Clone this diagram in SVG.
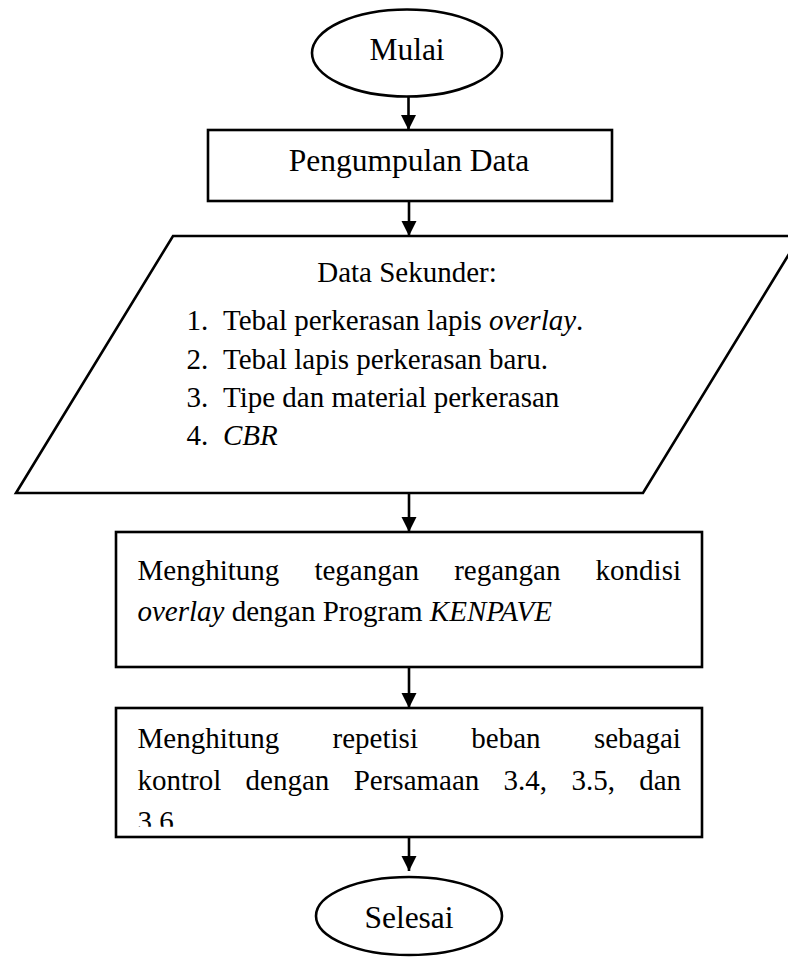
<svg xmlns="http://www.w3.org/2000/svg" width="788" height="957" viewBox="0 0 788 957">
<style>
.shape{fill:#fff;stroke:#000;stroke-width:2.6}
.edge{fill:none;stroke:#000;stroke-width:2.6}
.big{font-family:"Liberation Serif","Times New Roman",serif;font-size:31.5px;fill:#000}
.txt{font-family:"Liberation Serif","Times New Roman",serif;font-size:29px;fill:#000}
.it{font-style:italic}
</style>
<defs>
<marker id="arr" viewBox="0 0 10 10" refX="10" refY="5" markerUnits="userSpaceOnUse" markerWidth="15" markerHeight="16" orient="auto">
<path d="M0,0 L10,5 L0,10 z" fill="#000"/>
</marker>
<clipPath id="clipBox3"><rect x="116" y="708" width="586" height="118.7"/></clipPath>
</defs>
<rect width="788" height="957" fill="#fff"/>
<g id="connectors">
<line class="edge" x1="408.5" y1="97" x2="408.5" y2="130" marker-end="url(#arr)"/>
<line class="edge" x1="409" y1="201" x2="409" y2="236" marker-end="url(#arr)"/>
<line class="edge" x1="409" y1="493" x2="409" y2="532" marker-end="url(#arr)"/>
<line class="edge" x1="409" y1="667" x2="409" y2="708" marker-end="url(#arr)"/>
<line class="edge" x1="409" y1="837" x2="409" y2="871" marker-end="url(#arr)"/>
</g>
<g id="start">
<ellipse class="shape" cx="407" cy="53" rx="95" ry="43.5"/>
<text class="big" x="407" y="60" text-anchor="middle">Mulai</text>
</g>
<g id="collect">
<rect class="shape" x="208" y="130" width="404" height="71"/>
<text class="big" x="409" y="171" text-anchor="middle">Pengumpulan Data</text>
</g>
<g id="input">
<polygon class="shape" points="173,236 800,236 643,493 16,493"/>
<text class="txt" x="407" y="281.5" text-anchor="middle">Data Sekunder:</text>
<text class="txt" x="186.5" y="330">1.</text>
<text class="txt" x="223" y="330">Tebal perkerasan lapis <tspan class="it">overlay</tspan>.</text>
<text class="txt" x="186.5" y="368.5">2.</text>
<text class="txt" x="223" y="368.5">Tebal lapis perkerasan baru.</text>
<text class="txt" x="186.5" y="407">3.</text>
<text class="txt" x="223" y="407">Tipe dan material perkerasan</text>
<text class="txt" x="186.5" y="445">4.</text>
<text class="txt it" x="223" y="445">CBR</text>
</g>
<g id="kenpave">
<rect class="shape" x="116" y="532" width="586" height="135"/>
<text class="txt" y="580"><tspan x="137.5">Menghitung</tspan><tspan x="314.4">tegangan</tspan><tspan x="454.2">regangan</tspan><tspan x="595.6">kondisi</tspan></text>
<text class="txt" x="137.5" y="620.5"><tspan class="it">overlay</tspan> dengan Program <tspan class="it">KENPAVE</tspan></text>
</g>
<g id="repetisi">
<rect class="shape" x="116" y="708" width="586" height="129"/>
<text class="txt" y="748"><tspan x="137.5">Menghitung</tspan><tspan x="332.6">repetisi</tspan><tspan x="471.3">beban</tspan><tspan x="593.9">sebagai</tspan></text>
<text class="txt" y="789.5"><tspan x="137.5">kontrol</tspan><tspan x="245.6">dengan</tspan><tspan x="353.7">Persamaan</tspan><tspan x="503.6">3.4,</tspan><tspan x="571.4">3.5,</tspan><tspan x="639.2">dan</tspan></text>
<text class="txt" x="137.5" y="830.5" clip-path="url(#clipBox3)">3.6</text>
</g>
<g id="end">
<ellipse class="shape" cx="409" cy="916" rx="93" ry="39"/>
<text class="big" x="409" y="928" text-anchor="middle">Selesai</text>
</g>
</svg>
